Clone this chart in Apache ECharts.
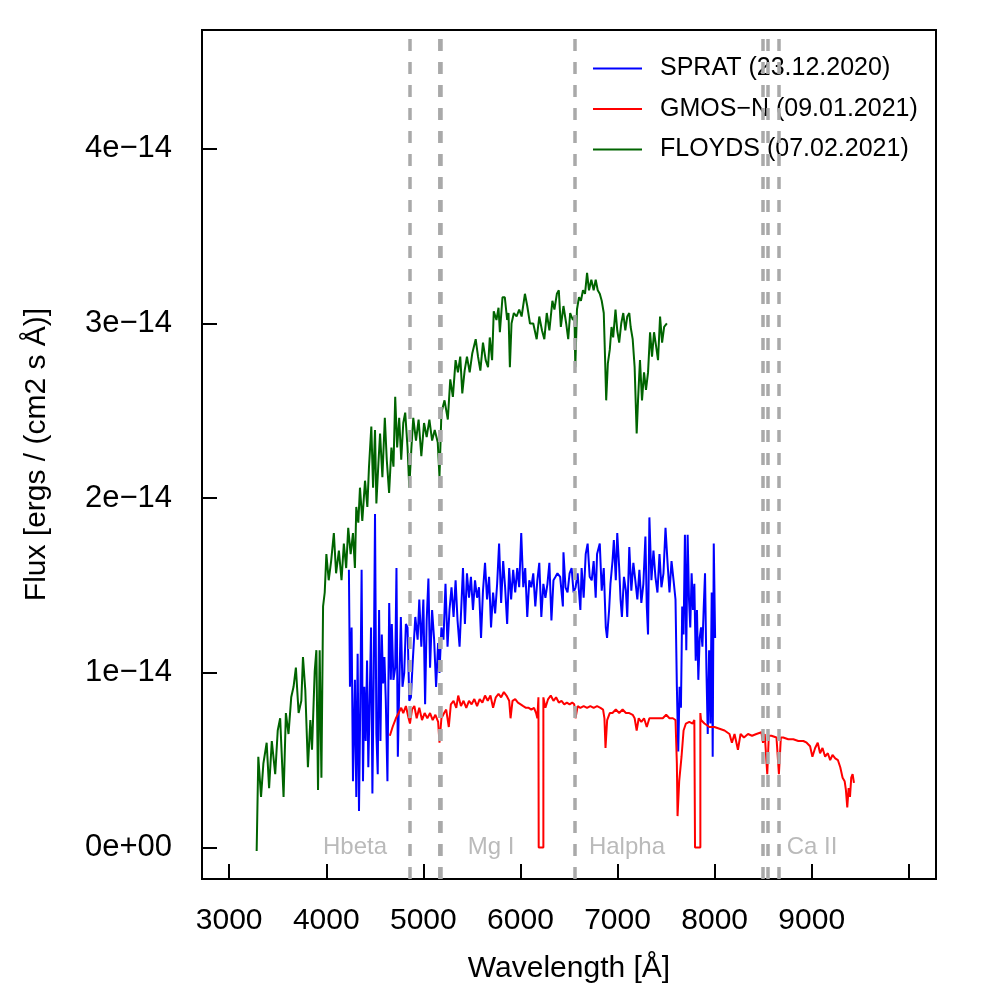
<!DOCTYPE html>
<html>
<head>
<meta charset="utf-8">
<script src="https://cdn.jsdelivr.net/npm/echarts@6/dist/echarts.min.js"></script>
<style>
  html, body { margin: 0; padding: 0; background: #fff; }
  #chart { width: 996px; height: 996px; }
</style>
</head>
<body>
<div id="chart"></div>
<script>
// flux values are in units of 1e-14 ergs / (cm2 s Å)
const floydsWave = [3283,3300,3328,3352,3386,3411,3439,3474,3500,3525,3560,3584,3611,3639,3663,3687,3715,3743,3760,3784,3811,3836,3853,3881,3898,3915,3932,3950,3967,3984,4001,4025,4050,4078,4101,4130,4157,4181,4205,4226,4251,4275,4295,4309,4330,4347,4371,4399,4423,4440,4464,4482,4502,4516,4537,4554,4578,4603,4623,4647,4671,4692,4710,4730,4751,4772,4793,4813,4837,4855,4876,4896,4924,4951,4979,5007,5034,5062,5090,5117,5148,5166,5186,5218,5252,5277,5304,5332,5356,5380,5401,5425,5449,5477,5504,5539,5563,5587,5614,5642,5666,5684,5708,5725,5753,5774,5788,5815,5839,5863,5877,5891,5908,5932,5960,5987,6012,6046,6070,6098,6132,6167,6194,6222,6246,6271,6298,6329,6350,6375,6395,6416,6443,6471,6492,6512,6540,6556,6565,6582,6603,6623,6644,6665,6686,6706,6730,6754,6775,6796,6817,6837,6858,6872,6883,6900,6920,6938,6955,6979,6997,7017,7038,7059,7080,7100,7121,7135,7156,7176,7197,7211,7231,7252,7273,7293,7314,7335,7355,7376,7397,7417,7438,7459,7480,7508];
const floydsFlux = [-0.02,0.52,0.29,0.48,0.60,0.34,0.61,0.42,0.67,0.74,0.29,0.77,0.65,0.86,0.92,1.03,0.77,0.84,1.09,0.90,0.46,0.73,0.56,1.01,1.13,0.33,1.13,0.40,1.38,1.46,1.68,1.53,1.64,1.80,1.57,1.70,1.53,1.74,1.60,1.83,1.68,1.80,1.60,1.95,1.86,2.06,1.87,2.10,1.95,2.18,2.41,2.06,2.39,1.97,2.20,2.37,2.12,2.46,2.22,2.03,2.29,2.18,2.58,2.29,2.46,2.22,2.43,2.49,2.29,2.06,2.28,2.46,2.33,2.45,2.24,2.43,2.35,2.45,2.33,2.39,2.32,2.12,2.49,2.56,2.45,2.68,2.58,2.79,2.72,2.81,2.60,2.73,2.81,2.72,2.83,2.91,2.81,2.73,2.89,2.79,2.75,2.92,2.79,3.07,3.02,3.09,2.95,3.15,3.15,3.02,3.06,2.75,3.00,3.06,3.04,3.08,3.04,3.17,3.10,3.00,3.00,2.91,3.04,2.96,2.91,3.06,2.96,3.13,3.08,3.17,3.19,2.98,3.10,3.00,2.91,3.06,3.02,3.04,2.75,3.08,3.15,3.13,3.19,3.17,3.29,3.19,3.25,3.19,3.25,3.19,3.17,3.13,3.06,2.79,2.56,2.77,2.85,2.98,2.92,3.08,2.96,2.89,3.00,3.06,2.96,3.04,3.06,2.98,2.91,2.75,2.37,2.56,2.79,2.56,2.72,2.62,2.72,2.95,2.81,2.95,2.87,2.79,3.04,2.89,2.98,3.00];

const spratWave = [4233,4244,4261,4275,4295,4309,4323,4337,4350,4364,4378,4392,4406,4420,4433,4447,4461,4475,4489,4502,4516,4530,4544,4558,4572,4585,4599,4613,4630,4648,4665,4675,4692,4710,4723,4737,4751,4768,4785,4803,4820,4837,4855,4872,4889,4917,4941,4958,4979,5000,5018,5034,5052,5069,5090,5111,5131,5152,5166,5186,5207,5228,5249,5269,5290,5311,5332,5352,5373,5394,5408,5428,5449,5470,5490,5511,5532,5553,5573,5594,5614,5635,5656,5677,5697,5718,5739,5760,5780,5801,5822,5842,5863,5884,5904,5925,5946,5967,5987,6008,6029,6049,6070,6091,6112,6132,6153,6174,6194,6215,6236,6257,6278,6298,6319,6340,6361,6381,6409,6437,6443,6464,6485,6506,6527,6547,6568,6589,6617,6630,6651,6672,6692,6713,6734,6754,6775,6789,6817,6837,6858,6879,6892,6913,6927,6948,6962,6982,6997,7017,7031,7045,7066,7086,7100,7121,7142,7163,7183,7204,7225,7245,7266,7287,7301,7314,7328,7349,7370,7390,7411,7432,7452,7473,7494,7515,7535,7556,7577,7597,7611,7625,7639,7653,7666,7680,7694,7708,7722,7736,7749,7763,7777,7791,7805,7818,7832,7846,7860,7874,7888,7901,7915,7929,7943,7956,7970,7980,7991,8005];
const spratFlux = [1.59,0.92,1.26,0.38,0.96,0.29,1.11,0.21,0.80,1.59,0.38,0.92,0.61,1.07,0.46,0.84,1.26,0.31,1.00,1.91,0.65,0.42,1.36,0.61,1.22,0.94,1.09,0.84,0.38,1.40,0.96,1.28,0.96,1.03,1.60,0.52,0.90,1.32,0.92,1.00,1.28,1.26,0.84,0.86,1.05,1.32,1.19,1.42,1.15,1.42,0.82,1.30,1.54,1.03,1.36,1.19,0.92,1.17,1.00,1.26,1.19,1.51,1.15,1.36,1.49,1.32,1.53,1.30,1.15,1.42,1.60,1.28,1.57,1.43,1.55,1.36,1.53,1.43,1.49,1.20,1.47,1.63,1.42,1.55,1.26,1.46,1.34,1.51,1.74,1.40,1.64,1.49,1.28,1.60,1.42,1.59,1.46,1.60,1.49,1.80,1.49,1.60,1.32,1.53,1.49,1.57,1.38,1.53,1.63,1.32,1.51,1.43,1.51,1.63,1.30,1.53,1.55,1.57,1.55,1.38,1.69,1.49,1.46,1.57,1.60,1.46,1.49,1.57,1.36,1.60,1.43,1.68,1.74,1.55,1.53,1.64,1.43,1.68,1.74,1.47,1.60,1.26,1.20,1.36,1.51,1.64,1.76,1.53,1.80,1.60,1.42,1.32,1.55,1.47,1.32,1.72,1.47,1.63,1.53,1.42,1.59,1.40,1.51,1.78,1.38,1.22,1.89,1.53,1.70,1.55,1.46,1.68,1.49,1.57,1.83,1.63,1.46,1.64,1.53,1.42,0.92,0.55,0.92,0.80,1.38,1.22,1.79,1.13,1.79,1.42,1.26,1.57,1.36,1.51,1.07,1.36,0.96,1.20,1.26,1.15,1.38,1.57,1.03,0.65,1.13,0.71,1.46,0.52,1.74,1.20];

const gmosWave = [4655,4683,4717,4745,4772,4793,4820,4848,4862,4883,4907,4931,4958,4986,5013,5041,5069,5096,5124,5152,5166,5186,5214,5235,5262,5283,5311,5339,5359,5387,5414,5442,5470,5497,5525,5553,5580,5608,5635,5663,5691,5718,5746,5774,5801,5829,5856,5884,5898,5918,5946,5974,6002,6029,6057,6085,6112,6140,6161,6174,6185,6188,6236,6236,6257,6285,6312,6340,6367,6395,6423,6451,6478,6506,6533,6554,6567,6589,6617,6651,6686,6720,6754,6789,6824,6851,6865,6876,6893,6920,6948,6982,7017,7052,7086,7121,7156,7176,7197,7218,7245,7273,7301,7328,7363,7397,7432,7466,7501,7535,7570,7597,7611,7618,7635,7659,7680,7704,7739,7773,7791,7798,7853,7853,7860,7895,7946,7998,8050,8102,8153,8178,8205,8240,8267,8302,8344,8385,8430,8482,8498,8516,8542,8558,8585,8637,8662,8682,8706,8758,8810,8862,8914,8948,8983,9007,9035,9062,9086,9111,9138,9166,9190,9214,9242,9270,9294,9318,9339,9352,9366,9380,9394,9407,9421,9435];
const gmosFlux = [0.64,0.69,0.74,0.77,0.80,0.77,0.81,0.74,0.71,0.79,0.81,0.74,0.80,0.73,0.77,0.74,0.77,0.73,0.76,0.72,0.60,0.74,0.77,0.79,0.69,0.82,0.84,0.80,0.87,0.81,0.84,0.80,0.84,0.82,0.85,0.81,0.85,0.83,0.87,0.84,0.87,0.80,0.86,0.88,0.86,0.89,0.87,0.84,0.74,0.84,0.85,0.83,0.82,0.81,0.80,0.80,0.79,0.80,0.77,0.74,0.86,0.00,0.00,0.86,0.80,0.85,0.87,0.84,0.86,0.83,0.84,0.82,0.83,0.82,0.83,0.82,0.74,0.81,0.80,0.81,0.80,0.81,0.80,0.81,0.80,0.79,0.74,0.57,0.73,0.77,0.77,0.79,0.77,0.79,0.77,0.77,0.76,0.74,0.67,0.74,0.72,0.74,0.69,0.74,0.74,0.74,0.74,0.74,0.76,0.74,0.74,0.73,0.48,0.18,0.38,0.52,0.67,0.71,0.72,0.71,0.73,0.00,0.00,0.77,0.73,0.71,0.69,0.69,0.68,0.67,0.65,0.60,0.65,0.56,0.65,0.63,0.65,0.64,0.65,0.66,0.60,0.65,0.42,0.64,0.64,0.63,0.42,0.63,0.63,0.62,0.62,0.61,0.61,0.60,0.58,0.52,0.57,0.60,0.54,0.57,0.52,0.54,0.50,0.53,0.51,0.50,0.46,0.40,0.38,0.33,0.23,0.34,0.29,0.40,0.42,0.37];

const legendNames = ['SPRAT (23.12.2020)', 'GMOS\u2212N (09.01.2021)', 'FLOYDS (07.02.2021)'];
const lineWaves = [4861, 5167, 5173, 5184, 6563, 8498, 8542, 8662];
const lineLabels = ['Hbeta', 'Mg I', 'Halpha', 'Ca II'];
const lineLabelWaves = [4296, 5697, 7097, 9003];
const xTicks = [3000, 4000, 5000, 6000, 7000, 8000, 9000, 10000];
const xTickLabels = [3000, 4000, 5000, 6000, 7000, 8000, 9000];
const yTicks = [0, 1, 2, 3, 4];

const pairs = (xs, ys) => xs.map((x, i) => [x, ys[i]]);
const font = 'Liberation Sans, Arial, Helvetica, sans-serif';

const chart = echarts.init(document.getElementById('chart'));

const option = {
  animation: false,
  backgroundColor: '#fff',
  textStyle: { fontFamily: font },
  grid: {
    left: 202, top: 30, width: 734, height: 849,
    show: true, borderColor: '#000', borderWidth: 2, backgroundColor: 'transparent'
  },
  xAxis: {
    type: 'value', min: 2720, max: 10280,
    splitLine: { show: false },
    axisLine: { show: false, onZero: false },
    axisTick: { show: true, inside: true, length: 15, customValues: xTicks, lineStyle: { color: '#000', width: 2 } },
    axisLabel: {
      customValues: xTickLabels, fontSize: 30, color: '#000', margin: 27, fontFamily: font,
      formatter: v => String(v)
    },
    name: 'Wavelength [Å]', nameLocation: 'middle', nameGap: 75,
    nameTextStyle: { fontSize: 30, color: '#000', fontFamily: font }
  },
  yAxis: {
    type: 'value', min: -0.18, max: 4.68,
    splitLine: { show: false },
    axisLine: { show: false, onZero: false },
    axisTick: { show: true, inside: true, length: 15, customValues: yTicks, lineStyle: { color: '#000', width: 2 } },
    axisLabel: {
      customValues: yTicks, fontSize: 31, color: '#000', margin: 30, fontFamily: font,
      formatter: v => v === 0 ? '0e+00' : v + 'e\u221214'
    },
    name: 'Flux [ergs / (cm2 s Å)]', nameLocation: 'middle', nameGap: 150, nameRotate: 90,
    nameTextStyle: { fontSize: 30, color: '#000', fontFamily: font }
  },
  legend: {
    data: legendNames,
    orient: 'vertical', left: 588, top: 51,
    icon: 'rect', itemWidth: 49, itemHeight: 2, itemGap: 15.5,
    selectedMode: false,
    textStyle: { fontSize: 25, color: '#000', fontFamily: font, padding: [0, 0, 0, 13], lineHeight: 25 }
  },
  series: [
    {
      name: legendNames[2], type: 'line', data: pairs(floydsWave, floydsFlux),
      symbol: 'none', color: '#006400', lineStyle: { width: 2, color: '#006400' }, z: 2
    },
    {
      name: legendNames[0], type: 'line', data: pairs(spratWave, spratFlux),
      symbol: 'none', color: '#0000ff', lineStyle: { width: 2, color: '#0000ff' }, z: 3
    },
    {
      name: legendNames[1], type: 'line', data: pairs(gmosWave, gmosFlux),
      symbol: 'none', color: '#ff0000', lineStyle: { width: 2, color: '#ff0000' }, z: 4
    },
    {
      type: 'line', data: [], z: 5, silent: true,
      markLine: {
        symbol: 'none', silent: true, animation: false,
        label: { show: false },
        lineStyle: { color: '#a9a9a9', width: 3.5, type: [12, 11] },
        data: lineWaves.map(w => ({ xAxis: w }))
      }
    },
    {
      type: 'scatter', z: 6, silent: true,
      symbolSize: 1, itemStyle: { color: 'rgba(0,0,0,0)' },
      data: lineLabels.map((t, i) => ({ name: t, value: [lineLabelWaves[i], 0] })),
      label: { show: true, position: 'inside', formatter: '{b}', color: '#a9a9a9', fontSize: 24, fontFamily: font }
    }
  ]
};

chart.setOption(option);
</script>
</body>
</html>
